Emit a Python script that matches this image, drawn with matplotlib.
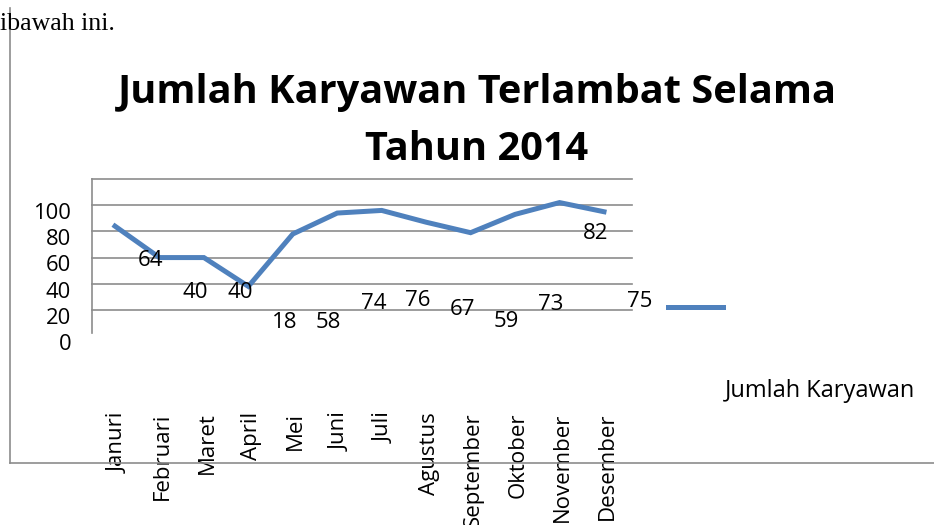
import matplotlib
matplotlib.use("Agg")
import matplotlib.pyplot as plt
from matplotlib.lines import Line2D
from matplotlib.transforms import ScaledTranslation

months = ["Januri", "Februari", "Maret", "April", "Mei", "Juni", "Juli",
          "Agustus", "September", "Oktober", "November", "Desember"]
late_counts = [64, 40, 40, 18, 58, 74, 76, 67, 59, 73, 82, 75]
y_ticks = [0, 20, 40, 60, 80, 100]

# label drop (pixels) - the original render pushed labels around
label_drop = [34, 35, 35, 36, 89, 90, 90, 87, 89, 90, 31, 90]

blue = "#4f81bd"
grid_gray = "#8c8c8c"
W, H = 934, 525

plt.rcParams["font.family"] = ["Open Sans", "DejaVu Sans"]
fig = plt.figure(figsize=(W / 100, H / 100), dpi=100)

# plot area
ax = fig.add_axes([92 / W, 1 - 333 / H, 540 / W, 154 / H])
ax.plot(range(len(months)), late_counts, color=blue, lw=3.6,
        solid_joinstyle="miter", clip_on=False)
ax.set_xlim(-0.517, 11.63)
ax.set_ylim(-17.6, 100)

for v in y_ticks:
    ax.axhline(v, color=grid_gray, lw=1.2, zorder=0, clip_on=False)

for s in ["top", "right", "bottom"]:
    ax.spines[s].set_visible(False)
ax.spines["left"].set_color(grid_gray)
ax.spines["left"].set_linewidth(1.2)

ax.set_yticks(y_ticks)
ax.set_yticklabels([str(v) for v in y_ticks], fontsize=15.8)
ax.tick_params(axis="y", length=0, pad=15)
shift = ScaledTranslation(0, -32 / 100, fig.dpi_scale_trans)
for lab in ax.get_yticklabels():
    lab.set_transform(lab.get_transform() + shift)

ax.set_xticks(range(len(months)))
ax.set_xticklabels(months, rotation=90, fontsize=16)
ax.tick_params(axis="x", length=0, pad=57)
xshift = ScaledTranslation(3 / 100, 0, fig.dpi_scale_trans)
for lab in ax.get_xticklabels():
    lab.set_transform(lab.get_transform() + xshift)

# data labels
for i, v in enumerate(late_counts):
    ax.annotate(str(v), (i, v), xytext=(36 * 0.72, -label_drop[i] * 0.72),
                textcoords="offset points", ha="center", va="center",
                fontsize=16, annotation_clip=False)

# title
fig.text(477 / W, 1 - 93 / H, "Jumlah Karyawan Terlambat Selama",
         ha="center", va="center", fontsize=28.6, fontweight="bold")
fig.text(477 / W, 1 - 150 / H, "Tahun 2014",
         ha="center", va="center", fontsize=28.6, fontweight="bold")

# legend (handle and label drifted apart in the original)
fig.add_artist(Line2D([668 / W, 723 / W], [1 - 307 / H, 1 - 307 / H],
                      color=blue, lw=3.6))
fig.text(725 / W, 1 - 391 / H, "Jumlah Karyawan", ha="left", va="center",
         fontsize=17)

# leftover chart border and document text
fig.add_artist(Line2D([10 / W, 10 / W], [1 - 8 / H, 1 - 463 / H],
                      color=grid_gray, lw=1.2))
fig.add_artist(Line2D([10 / W, 1.0], [1 - 463 / H, 1 - 463 / H],
                      color=grid_gray, lw=1.2))
fig.text(0, 1 - 30 / H, "ibawah ini.", ha="left", va="baseline",
         fontsize=18.6, family="Liberation Serif")

fig.savefig("out.png", dpi=100)
